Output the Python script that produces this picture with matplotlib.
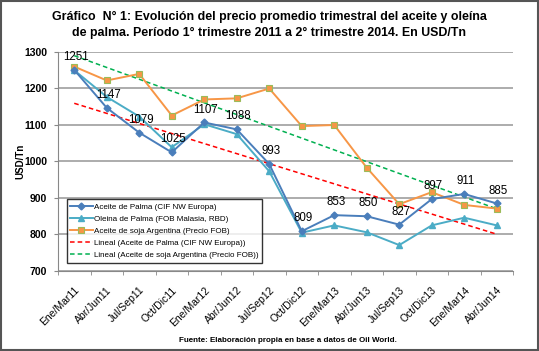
import numpy as np
import matplotlib
matplotlib.use("Agg")
from matplotlib import pyplot as plt
from matplotlib.patches import Rectangle
from matplotlib.transforms import ScaledTranslation

periodos = ["Ene/Mar11", "Abr/Jun11", "Jul/Sep11", "Oct/Dic11", "Ene/Mar12", "Abr/Jun12",
            "Jul/Sep12", "Oct/Dic12", "Ene/Mar13", "Abr/Jun13", "Jul/Sep13", "Oct/Dic13",
            "Ene/Mar14", "Abr/Jun14"]
aceite_palma = [1251, 1147, 1079, 1025, 1107, 1088, 993, 809, 853, 850, 827, 897, 911, 885]
oleina_palma = [1250, 1177, 1123, 1039, 1102, 1075, 973, 805, 825, 806, 771, 825, 846, 825]
soja_arg = [1260, 1222, 1240, 1126, 1170, 1173, 1200, 1097, 1100, 983, 883, 916, 881, 871]

plt.rcParams['font.family'] = ['Liberation Sans', 'DejaVu Sans']

fig = plt.figure(figsize=(5.39, 3.51), dpi=100)
ax = fig.add_axes([58 / 539, 80 / 351, 455 / 539, 219 / 351])

x = np.arange(1, len(periodos) + 1)

ax.plot(x, aceite_palma, color='#4A7EBB', marker='D', markersize=3.5, lw=1.4,
        label='Aceite de Palma (CIF NW Europa)', zorder=4)
ax.plot(x, oleina_palma, color='#4BACC6', marker='^', markersize=4.5, lw=1.4,
        label='Oleina de Palma (FOB Malasia, RBD)', zorder=3)
ax.plot(x, soja_arg, color='#F79646', marker='s', markersize=4, lw=1.4,
        markeredgecolor='#9BBB59', markeredgewidth=0.8,
        label='Aceite de soja Argentina (Precio FOB)', zorder=3)

# tendencias lineales
p1 = np.polyfit(x, aceite_palma, 1)
p2 = np.polyfit(x, soja_arg, 1)
ax.plot(x, np.polyval(p1, x), color='#FF0000', ls=(0, (3, 2)), lw=1.1,
        label='Lineal (Aceite de Palma (CIF NW Europa))', zorder=2)
ax.plot(x, np.polyval(p2, x), color='#00B050', ls=(0, (3, 2)), lw=1.1,
        label='Lineal (Aceite de soja Argentina (Precio FOB))', zorder=2)

for xi, v in zip(x, aceite_palma):
    ax.annotate(str(v), (xi, v), xytext=(1, 5), textcoords='offset points',
                ha='center', va='bottom', fontsize=8.3, zorder=5)

ax.set_xlim(0.5, len(periodos) + 0.5)
ax.set_ylim(700, 1300)
ax.set_yticks(range(700, 1301, 100))
ax.set_xticks(x)
ax.set_xticklabels(periodos, rotation=45, ha='right', rotation_mode='anchor', fontsize=7.5)
shift = ScaledTranslation(4 / 100, 0, fig.dpi_scale_trans)
for lbl in ax.get_xticklabels():
    lbl.set_transform(lbl.get_transform() + shift)
ax.set_xticks(np.arange(0.5, len(periodos) + 1), minor=True)
ax.tick_params(axis='x', which='major', length=0, pad=10)
ax.tick_params(axis='x', which='minor', length=3, color='#888888', direction='out')
ax.tick_params(axis='y', length=3, color='#888888', direction='out', labelsize=7.5, pad=5)
for lbl in ax.get_yticklabels():
    lbl.set_fontweight('bold')
ax.yaxis.grid(True, color='#A6A6A6', lw=1.3)
ax.set_axisbelow(True)
for s in ['top', 'right']:
    ax.spines[s].set_visible(False)
ax.spines['left'].set_color('#888888')
ax.spines['bottom'].set_color('#888888')
ax.set_ylabel('USD/Tn', fontsize=7, fontweight='bold')
ax.yaxis.set_label_coords(-33 / 455, 0.5)

leg = ax.legend(loc='lower left', bbox_to_anchor=(0.01, 0.02), fontsize=5.8,
                frameon=True, fancybox=False, edgecolor='black', handlelength=2.8,
                borderpad=0.45, labelspacing=0.55, handletextpad=0.1)
leg.get_frame().set_linewidth(1.0)

fig.text(0.5, 0.968, 'Gráfico  N° 1: Evolución del precio promedio trimestral del aceite y oleína\n'
         'de palma. Período 1° trimestre 2011 a 2° trimestre 2014. En USD/Tn',
         ha='center', va='top', fontsize=8.9, fontweight='bold', linespacing=1.45)
fig.text(0.535, 0.02, 'Fuente: Elaboración propia en base a datos de Oil World.',
         ha='center', va='bottom', fontsize=5.8, fontweight='bold')

fig.patches.append(Rectangle((0.002, 0.003), 0.996, 0.994, transform=fig.transFigure,
                             fill=False, edgecolor='#555555', lw=1.5))

fig.savefig('out.png', dpi=100)
